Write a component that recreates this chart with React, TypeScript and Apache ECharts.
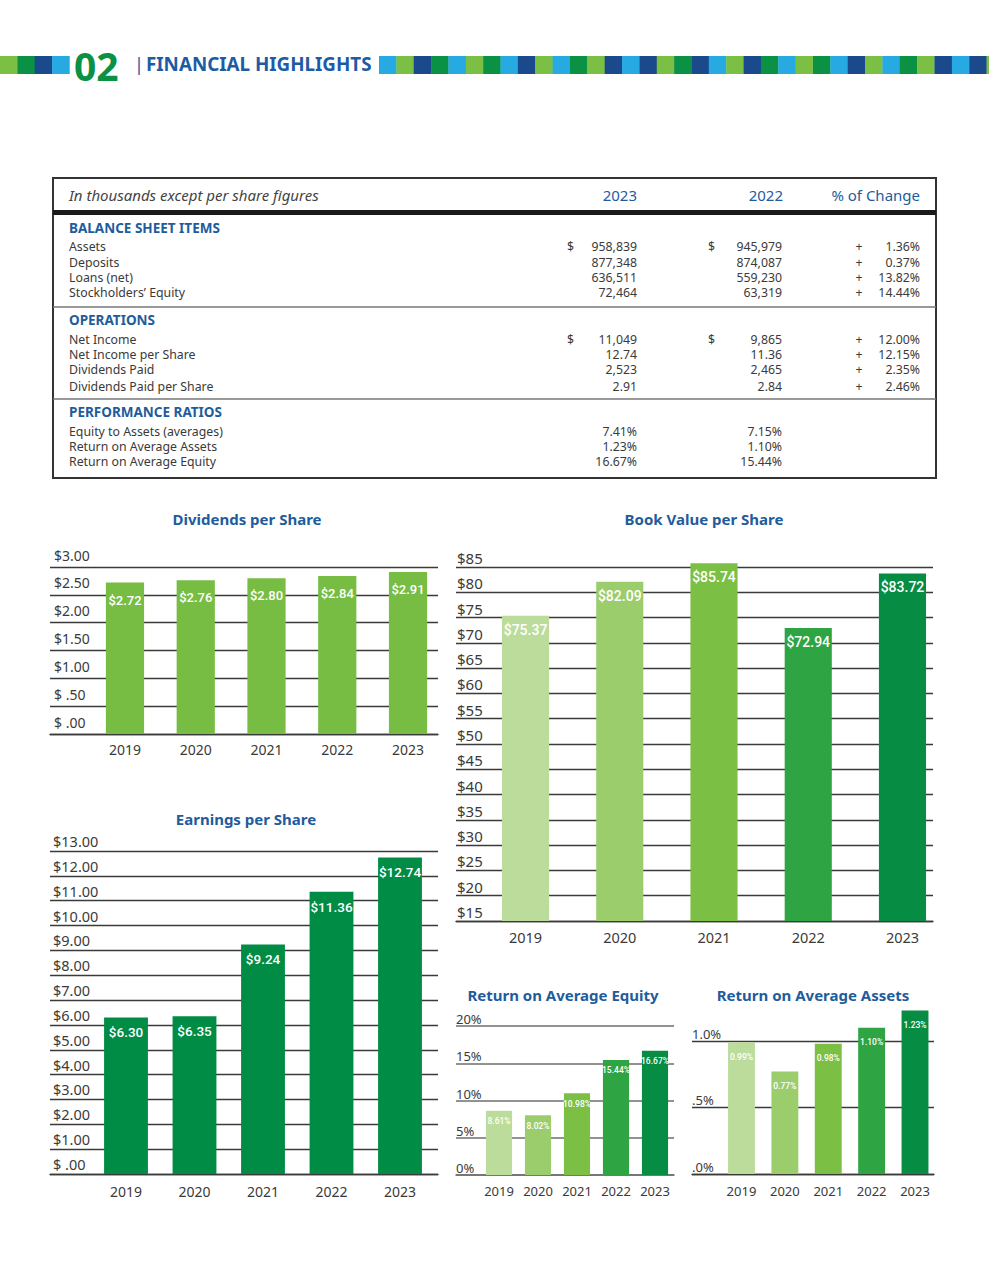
import React, { useEffect, useRef } from "react";
import * as echarts from "echarts";

// ---------- data ----------
const years = ["2019", "2020", "2021", "2022", "2023"];
const dividendsPerShare = [2.72, 2.76, 2.8, 2.84, 2.91];
const earningsPerShare = [6.3, 6.35, 9.24, 11.36, 12.74];
const bookValuePerShare = [75.37, 82.09, 85.74, 72.94, 83.72];
const returnOnAvgEquity = [8.61, 8.02, 10.98, 15.44, 16.67];
const returnOnAvgAssets = [0.99, 0.77, 0.98, 1.1, 1.23];

const dividendTicks = ["$ .00", "$ .50", "$1.00", "$1.50", "$2.00", "$2.50", "$3.00"];
const epsTicks = ["$ .00", "$1.00", "$2.00", "$3.00", "$4.00", "$5.00", "$6.00", "$7.00", "$8.00", "$9.00", "$10.00", "$11.00", "$12.00", "$13.00"];
const bookValueTicks = ["$15", "$20", "$25", "$30", "$35", "$40", "$45", "$50", "$55", "$60", "$65", "$70", "$75", "$80", "$85"];
const roeTicks = ["0%", "5%", "10%", "15%", "20%"];
const roaTicks = [".0%", ".5%", "1.0%"];

const tableHeader = ["In thousands except per share figures", "2023", "2022", "% of Change"];
const balanceLabels = ["Assets", "Deposits", "Loans (net)", "Stockholders\u2019 Equity"];
const balance2023 = ["958,839", "877,348", "636,511", "72,464"];
const balance2022 = ["945,979", "874,087", "559,230", "63,319"];
const balanceChange = ["1.36%", "0.37%", "13.82%", "14.44%"];
const operationsLabels = ["Net Income", "Net Income per Share", "Dividends Paid", "Dividends Paid per Share"];
const operations2023 = ["11,049", "12.74", "2,523", "2.91"];
const operations2022 = ["9,865", "11.36", "2,465", "2.84"];
const operationsChange = ["12.00%", "12.15%", "2.35%", "2.46%"];
const ratioLabels = ["Equity to Assets (averages)", "Return on Average Assets", "Return on Average Equity"];
const ratio2023 = ["7.41%", "1.23%", "16.67%"];
const ratio2022 = ["7.15%", "1.10%", "15.44%"];

// ---------- style ----------
const FONT = '"Noto Sans", "Open Sans", sans-serif';
const COND = 'Roboto, "Noto Sans", sans-serif';
const BLUE = "#1f5c9b";
const TXT = "#3a3a3a";
const LG = "#7bbf45", G = "#0a9144", DB = "#1a4a8c", LB = "#27a9e1";
const stripeLeft = [LG, G, DB, LB];
const stripeRight = [LB, LG, DB, G, LB, LG, G, LB, DB, LG, LB, G, LG, DB, LB, DB, LG, G, DB, LB, LG, DB, G, LB, LG, G, LB, DB, LG, LB, G, LG, DB, LB, DB, LG];
const greens = ["#bcdc9b", "#9ccd6c", "#7bbf44", "#2ea443", "#068c43"];

type Spec = {
  title: string; tx: number; ty: number;
  values: number[]; ticks: string[]; min: number; step: number; barMax: number;
  l: number; r: number; top: number; bottom: number; bl: number; br: number;
  gap: string; colors: string[]; fmt: (v: number) => string; lsize: number; ldist: number;
  tfont: number; tlh: number; tmargin: number; xfont: number; xmargin: number;
  lineColor: string; lineWidth: number;
};

const money = (v: number) => "$" + v.toFixed(2);
const pct = (v: number) => v.toFixed(2) + "%";

const specs: Spec[] = [
  {
    title: "Dividends per Share", tx: 247, ty: 519, values: dividendsPerShare, ticks: dividendTicks,
    min: 0, step: 0.5, barMax: 3, l: 50, r: 438, top: 567, bottom: 734, bl: 89.6, br: 443.4,
    gap: "46%", colors: years.map(() => "#78bd43"), fmt: money, lsize: 13, ldist: 11,
    tfont: 14, tlh: 24, tmargin: 4, xfont: 14, xmargin: 8, lineColor: "#3a3a3a", lineWidth: 1.3,
  },
  {
    title: "Earnings per Share", tx: 246, ty: 819, values: earningsPerShare, ticks: epsTicks,
    min: 0, step: 1, barMax: 13, l: 50, r: 438, top: 851, bottom: 1174, bl: 91.75, br: 434.25,
    gap: "36%", colors: years.map(() => "#008c44"), fmt: money, lsize: 13.5, ldist: 8,
    tfont: 14.5, tlh: 20, tmargin: 3, xfont: 14, xmargin: 10, lineColor: "#3a3a3a", lineWidth: 1.3,
  },
  {
    title: "Book Value per Share", tx: 704, ty: 519, values: bookValuePerShare, ticks: bookValueTicks,
    min: 15, step: 5, barMax: 90, l: 456, r: 933, top: 567, bottom: 921, bl: 478.4, br: 949.6,
    gap: "50%", colors: greens, fmt: money, lsize: 14, ldist: 7,
    tfont: 15, tlh: 18, tmargin: 1, xfont: 14.5, xmargin: 8, lineColor: "#3a3a3a", lineWidth: 1.3,
  },
  {
    title: "Return on Average Equity", tx: 563, ty: 995, values: returnOnAvgEquity, ticks: roeTicks,
    min: 0, step: 5, barMax: 20, l: 456, r: 674, top: 1026, bottom: 1175, bl: 479.5, br: 674.5,
    gap: "33%", colors: greens, fmt: pct, lsize: 8.5, ldist: 6,
    tfont: 13, tlh: 14, tmargin: 0, xfont: 13, xmargin: 9, lineColor: "#6e6e6e", lineWidth: 1.6,
  },
  {
    title: "Return on Average Assets", tx: 813, ty: 995, values: returnOnAvgAssets, ticks: roaTicks,
    min: 0, step: 0.5, barMax: 1.3, l: 692, r: 934, top: 1041, bottom: 1174, bl: 719.8, br: 936.7,
    gap: "38%", colors: greens, fmt: pct, lsize: 8.5, ldist: 10,
    tfont: 13, tlh: 15, tmargin: 0, xfont: 13, xmargin: 10, lineColor: "#3a3a3a", lineWidth: 1.3,
  },
];

function txt(x: number, y: number, t: string, font: string, fill: string, align = "left") {
  return {
    type: "text", x, y, silent: true,
    style: { text: t, font, fill, textAlign: align, textVerticalAlign: "middle" },
  };
}

function buildOption() {
  const grid: any[] = [];
  const xAxis: any[] = [];
  const yAxis: any[] = [];
  const series: any[] = [];
  const graphic: any[] = [];

  specs.forEach((s, i) => {
    const max = s.min + s.step * (s.ticks.length - 1);
    const ppu = (s.bottom - s.top) / (max - s.min);
    const barTop = s.bottom - (s.barMax - s.min) * ppu;
    grid.push({ left: s.l, top: s.top, width: s.r - s.l, height: s.bottom - s.top });
    grid.push({ left: s.bl, top: barTop, width: s.br - s.bl, height: s.bottom - barTop });
    xAxis.push({
      gridIndex: 2 * i, type: "value", min: 0, max: 1,
      axisLine: { show: true, lineStyle: { color: s.lineColor, width: s.lineWidth } },
      axisTick: { show: false }, axisLabel: { show: false }, splitLine: { show: false },
    });
    yAxis.push({
      gridIndex: 2 * i, type: "value", min: s.min, max, interval: s.step,
      axisLine: { show: false }, axisTick: { show: false },
      splitLine: { show: true, lineStyle: { color: s.lineColor, width: s.lineWidth } },
      axisLabel: {
        inside: true, margin: s.tmargin, align: "left", verticalAlign: "bottom",
        lineHeight: s.tlh, color: TXT, fontSize: s.tfont, fontFamily: FONT,
        formatter: (v: number) => s.ticks[Math.round((v - s.min) / s.step)] ?? "",
      },
    });
    xAxis.push({
      gridIndex: 2 * i + 1, type: "category", data: years,
      axisLine: { show: false }, axisTick: { show: false },
      axisLabel: { color: TXT, fontSize: s.xfont, fontFamily: FONT, margin: s.xmargin },
    });
    yAxis.push({ gridIndex: 2 * i + 1, type: "value", min: s.min, max: s.barMax, show: false });
    series.push({
      type: "bar", xAxisIndex: 2 * i + 1, yAxisIndex: 2 * i + 1,
      barCategoryGap: s.gap,
      data: s.values.map((v, k) => ({ value: v, itemStyle: { color: s.colors[k] } })),
      label: {
        show: true, position: "insideTop", distance: s.ldist, color: "#ffffff",
        fontSize: s.lsize, fontFamily: COND, fontWeight: 500, formatter: (p: any) => s.fmt(p.value),
      },
    });
    graphic.push(txt(s.tx, s.ty, s.title, `bold 15px ${FONT}`, BLUE, "center"));
  });

  // header stripe
  const sq = 17.36;
  stripeLeft.forEach((c, k) =>
    graphic.push({ type: "rect", silent: true, shape: { x: k * sq, y: 56, width: sq + 0.3, height: 18 }, style: { fill: c } })
  );
  stripeRight.forEach((c, k) =>
    graphic.push({ type: "rect", silent: true, shape: { x: 379 + k * sq, y: 56, width: sq + 0.3, height: 18 }, style: { fill: c } })
  );
  graphic.push(txt(74, 65, "02", `bold 39px ${FONT}`, G));
  graphic.push(txt(134, 64, "|", `18px ${FONT}`, "#1d5ca5"));
  graphic.push(txt(146, 64, "FINANCIAL HIGHLIGHTS", `bold 18.8px ${FONT}`, "#1d5ca5"));

  // table
  graphic.push({ type: "rect", silent: true, shape: { x: 53, y: 178, width: 883, height: 300 }, style: { fill: "none", stroke: "#333", lineWidth: 2 } });
  graphic.push({ type: "rect", silent: true, shape: { x: 53, y: 210, width: 883, height: 5 }, style: { fill: "#1a1a1a" } });
  graphic.push({ type: "line", silent: true, shape: { x1: 53, y1: 307, x2: 936, y2: 307 }, style: { stroke: "#777", lineWidth: 1.5 } });
  graphic.push({ type: "line", silent: true, shape: { x1: 53, y1: 399, x2: 936, y2: 399 }, style: { stroke: "#777", lineWidth: 1.5 } });
  graphic.push(txt(69, 195, tableHeader[0], `italic 15px ${FONT}`, "#444"));
  graphic.push(txt(637, 195, tableHeader[1], `15px ${FONT}`, BLUE, "right"));
  graphic.push(txt(783, 195, tableHeader[2], `15px ${FONT}`, BLUE, "right"));
  graphic.push(txt(920, 195, tableHeader[3], `15px ${FONT}`, BLUE, "right"));

  const rowFont = `12.3px ${FONT}`;
  const secFont = `bold 13.5px ${FONT}`;
  const section = (
    title: string, ty: number, rowsY: number[], labels: string[], a: string[], b: string[], c: string[] | null, dollar: boolean
  ) => {
    graphic.push(txt(69, ty, title, secFont, BLUE));
    labels.forEach((lab, k) => {
      const y = rowsY[k];
      graphic.push(txt(69, y, lab, rowFont, TXT));
      graphic.push(txt(637, y, a[k], rowFont, TXT, "right"));
      graphic.push(txt(782, y, b[k], rowFont, TXT, "right"));
      if (dollar && k === 0) {
        graphic.push(txt(567, y, "$", rowFont, TXT));
        graphic.push(txt(708, y, "$", rowFont, TXT));
      }
      if (c) {
        graphic.push(txt(859, y, "+", rowFont, TXT, "center"));
        graphic.push(txt(920, y, c[k], rowFont, TXT, "right"));
      }
    });
  };
  section("BALANCE SHEET ITEMS", 228, [246, 262, 277, 292], balanceLabels, balance2023, balance2022, balanceChange, true);
  section("OPERATIONS", 320, [339, 354, 369, 386], operationsLabels, operations2023, operations2022, operationsChange, true);
  section("PERFORMANCE RATIOS", 412, [431, 446, 461], ratioLabels, ratio2023, ratio2022, null, false);

  return { animation: false, backgroundColor: "#ffffff", grid, xAxis, yAxis, series, graphic };
}

export default function App() {
  const ref = useRef<HTMLDivElement>(null);
  useEffect(() => {
    if (!ref.current) return;
    const chart = echarts.init(ref.current, undefined, { renderer: "svg" });
    chart.setOption(buildOption() as any);
    return () => chart.dispose();
  }, []);
  return <div ref={ref} style={{ position: "absolute", left: 0, top: 0, width: 989, height: 1280 }} />;
}
